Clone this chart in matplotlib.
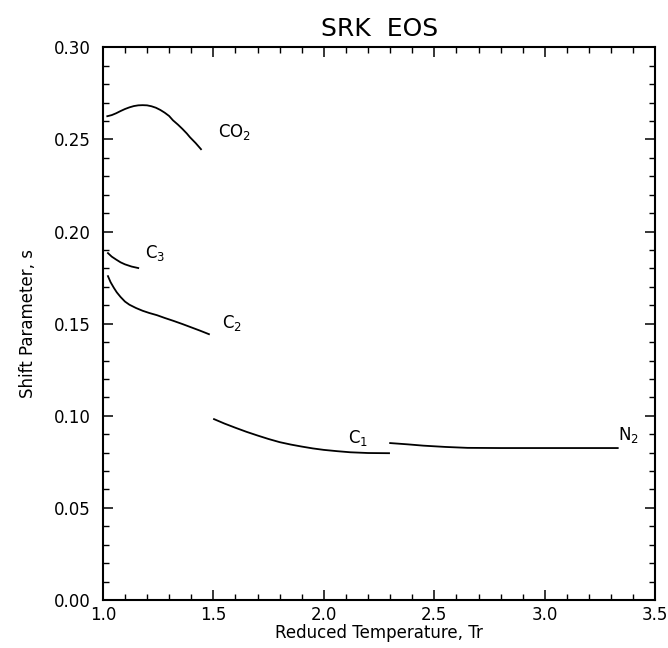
import matplotlib.pyplot as plt
from matplotlib.ticker import MultipleLocator

# reduced temperature / shift parameter
tr_co2 = [1.02, 1.04, 1.06, 1.08, 1.10, 1.12, 1.14, 1.16, 1.18, 1.20, 1.22, 1.24, 1.26, 1.28,
          1.30, 1.317, 1.34, 1.36, 1.38, 1.394, 1.42, 1.444]
s_co2 = [0.2626, 0.2632, 0.2642, 0.2654, 0.2665, 0.2674, 0.2681, 0.2685, 0.2686, 0.2685,
         0.2680, 0.2672, 0.2660, 0.2645, 0.2627, 0.2604, 0.2580, 0.2557, 0.2532, 0.2512,
         0.2480, 0.2447]

tr_c3 = [1.023, 1.04, 1.06, 1.08, 1.10, 1.13, 1.16]
s_c3 = [0.1883, 0.1864, 0.1848, 0.1833, 0.1822, 0.1810, 0.1802]

tr_c2 = [1.023, 1.035, 1.05, 1.063, 1.08, 1.10, 1.12, 1.15, 1.18, 1.21, 1.245, 1.28,
         1.32, 1.36, 1.40, 1.44, 1.48]
s_c2 = [0.1758, 0.1725, 0.1694, 0.1670, 0.1645, 0.1620, 0.1603, 0.1585, 0.1570, 0.1558,
        0.1546, 0.1531, 0.1515, 0.1498, 0.1480, 0.1462, 0.1443]

tr_c1 = [1.503, 1.55, 1.60, 1.65, 1.70, 1.75, 1.80, 1.85, 1.90, 1.95, 2.00, 2.06, 2.12,
         2.20, 2.295]
s_c1 = [0.0982, 0.0958, 0.0935, 0.0913, 0.0893, 0.0874, 0.0857, 0.0844, 0.0833, 0.0823,
        0.0815, 0.0808, 0.0802, 0.0798, 0.0797]

tr_n2 = [2.30, 2.38, 2.45, 2.55, 2.65, 2.80, 2.90, 3.10, 3.33]
s_n2 = [0.0852, 0.0845, 0.0838, 0.0831, 0.0826, 0.0825, 0.0825, 0.0825, 0.0825]

plt.rcParams['font.family'] = 'DejaVu Sans'

fig = plt.figure(figsize=(6.68, 6.48), dpi=100)
ax = fig.add_axes([0.154, 0.074, 0.827, 0.853])

for x, y in [(tr_co2, s_co2), (tr_c3, s_c3), (tr_c2, s_c2), (tr_c1, s_c1), (tr_n2, s_n2)]:
    ax.plot(x, y, color='black', linewidth=1.3)

lab = dict(fontsize=12, color='black')
ax.text(1.522, 0.2515, r'CO$_2$', **lab)
ax.text(1.19, 0.1855, r'C$_3$', **lab)
ax.text(1.54, 0.1475, r'C$_2$', **lab)
ax.text(2.11, 0.0855, r'C$_1$', **lab)
ax.text(3.33, 0.0870, r'N$_2$', **lab)

ax.set_xlim(1.0, 3.5)
ax.set_ylim(0.0, 0.30)
ax.xaxis.set_major_locator(MultipleLocator(0.5))
ax.xaxis.set_minor_locator(MultipleLocator(0.1))
ax.yaxis.set_major_locator(MultipleLocator(0.05))
ax.yaxis.set_minor_locator(MultipleLocator(0.01))
ax.xaxis.set_major_formatter(plt.FormatStrFormatter('%.1f'))
ax.yaxis.set_major_formatter(plt.FormatStrFormatter('%.2f'))
ax.tick_params(which='both', direction='in', top=True, right=True, labelsize=12)
ax.tick_params(which='major', length=7, width=1.1)
ax.tick_params(which='minor', length=4.5, width=1.0)
ax.tick_params(axis='y', which='major', pad=9)
ax.tick_params(axis='x', which='major', pad=4)
for sp in ax.spines.values():
    sp.set_linewidth(1.5)

ax.set_xlabel('Reduced Temperature, Tr', fontsize=12, labelpad=0)
ax.set_ylabel('Shift Parameter, s', fontsize=12, labelpad=12)
ax.set_title('SRK  EOS', fontsize=18, pad=8)

fig.savefig('out.png', dpi=100)
